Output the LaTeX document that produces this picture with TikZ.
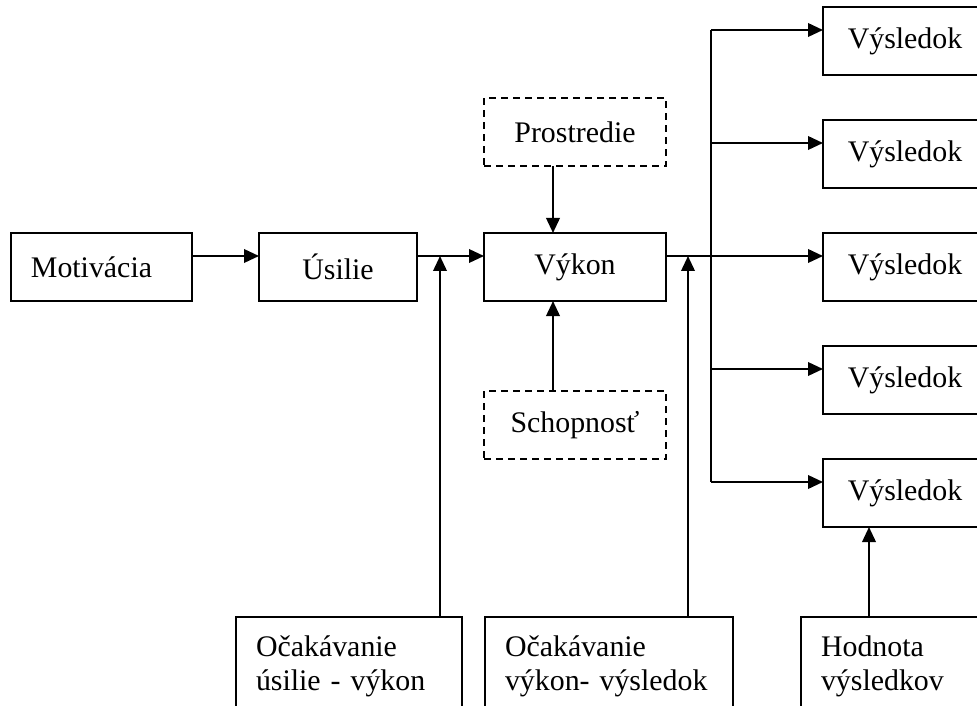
\documentclass[tikz,border=0pt]{standalone}
\usepackage{fontspec}
\setmainfont{Liberation Serif}
\usetikzlibrary{arrows.meta, positioning}

\begin{document}
\begin{tikzpicture}[
        font=\fontsize{17}{19.4}\selectfont,
        block/.style={rectangle, draw=black, line width=1.2pt, minimum height=1.36cm, inner sep=0pt, outer sep=0pt},
        envbox/.style={block, dashed, dash pattern=on 0.14cm off 0.1cm, minimum width=3.64cm},
        expbox/.style={rectangle, draw=black, line width=1.2pt, outer sep=0pt, anchor=north west, align=left, inner xsep=0.4cm, inner ysep=0.38cm},
        arrow/.style={-{Triangle[length=0.3cm, width=0.27cm]}, line width=1.2pt}
    ]
        \useasboundingbox (0,0) rectangle (19.54,-14.12);
        \clip (0,0) rectangle (19.54,-14.12);

        \node[block, minimum width=3.62cm] (motiv) at (2.03,-5.34) {Motivácia\kern0.4cm};
        \node[block, minimum width=3.16cm, right=1.34cm of motiv] (usilie) {Úsilie};
        \node[block, minimum width=3.64cm, right=1.34cm of usilie] (vykon) {Výkon};
        \node[envbox, above=1.34cm of vykon] (prostr) {Prostredie};
        \node[envbox, below=1.8cm of vykon] (schop) {Schopnosť};

        \node[block, minimum width=3.28cm, right=3.14cm of vykon] (res3) {Výsledok};
        \node[block, minimum width=3.28cm, above=0.9cm of res3] (res2) {Výsledok};
        \node[block, minimum width=3.28cm, above=0.9cm of res2] (res1) {Výsledok};
        \node[block, minimum width=3.28cm, below=0.9cm of res3] (res4) {Výsledok};
        \node[block, minimum width=3.28cm, below=0.9cm of res4] (res5) {Výsledok};

        \node[expbox, text width=3.72cm] (expA) at (4.72,-12.34) {Očakávanie\\úsilie - výkon};
        \node[expbox, text width=4.16cm] (expB) at (9.7,-12.34) {Očakávanie\\výkon- výsledok};
        \node[expbox, text width=2.88cm] (hodn) at (16.02,-12.34) {Hodnota\\výsledkov};

        % main chain
        \coordinate (lineU) at ([yshift=0.22cm]usilie.east);
        \coordinate (lineV) at ([yshift=0.22cm]vykon.east);
        \draw[arrow] ([yshift=0.22cm]motiv.east) -- ([yshift=0.22cm]usilie.west);
        \draw[arrow] (lineU) -- ([yshift=0.22cm]vykon.west);
        \draw[arrow] ([xshift=-0.44cm]prostr.south) -- ([xshift=-0.44cm]vykon.north);
        \draw[arrow] ([xshift=-0.44cm]schop.north) -- ([xshift=-0.44cm]vykon.south);

        % outcomes
        \coordinate (in1) at ([yshift=0.22cm]res1.west);
        \coordinate (in2) at ([yshift=0.22cm]res2.west);
        \coordinate (in3) at ([yshift=0.22cm]res3.west);
        \coordinate (in4) at ([yshift=0.22cm]res4.west);
        \coordinate (in5) at ([yshift=0.22cm]res5.west);
        \coordinate (split) at ([xshift=0.9cm]lineV);
        \draw[line width=1.2pt] (split |- in1) -- (split |- in5);
        \draw[arrow] (lineV) -- (in3);
        \draw[arrow] (split |- in1) -- (in1);
        \draw[arrow] (split |- in2) -- (in2);
        \draw[arrow] (split |- in4) -- (in4);
        \draw[arrow] (split |- in5) -- (in5);

        % expectations and valence
        \coordinate (upA) at ([xshift=-0.44cm]expA.north east);
        \coordinate (upB) at ([xshift=-0.9cm]expB.north east);
        \coordinate (upH) at ([xshift=-0.48cm]hodn.north);
        \draw[arrow] (upA) -- (upA |- lineU);
        \draw[arrow] (upB) -- (upB |- lineV);
        \draw[arrow] (upH) -- (upH |- res5.south);
    \end{tikzpicture}
\end{document}
